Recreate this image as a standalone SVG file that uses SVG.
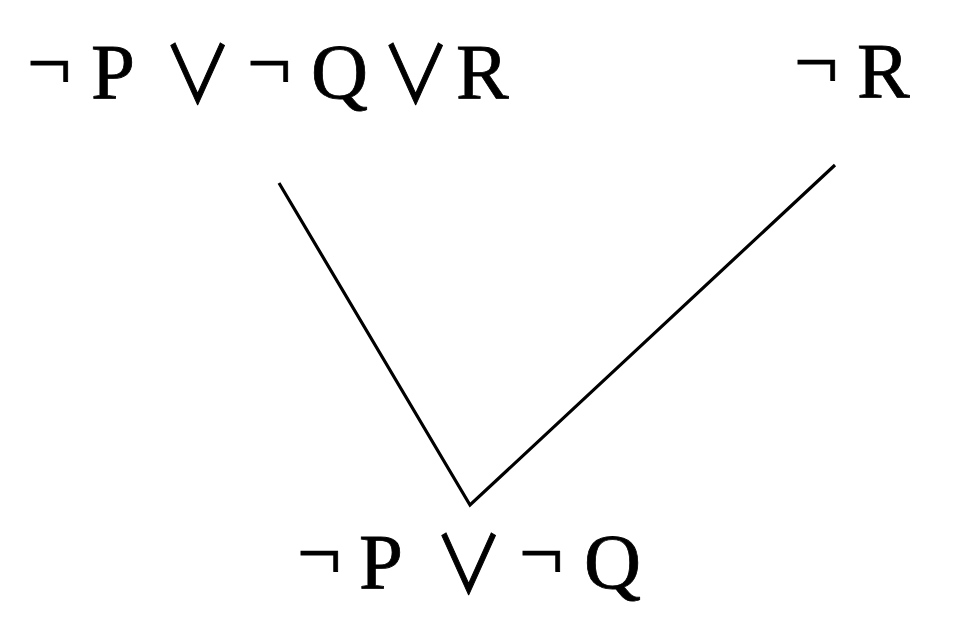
<svg xmlns="http://www.w3.org/2000/svg" width="963" height="623" viewBox="0 0 963 623">
<style>
text{font-family:"Liberation Serif","DejaVu Serif",serif;font-size:79px;fill:#000;stroke:#000;stroke-width:0.8}
.o{font-family:"Noto Sans CJK JP","DejaVu Sans",sans-serif;font-size:66px;stroke-width:0.9}
.c{stroke:#000;stroke-width:3.2;fill:none}
</style>
<rect width="963" height="623" fill="#fff"/>
<g id="n1">
<text y="98"><tspan x="27" dy="-9">¬</tspan><tspan x="91" dy="9">P</tspan><tspan x="247" dy="-9">¬</tspan><tspan x="311" dy="9">Q</tspan><tspan x="456">R</tspan></text>
<text class="o" transform="translate(163,103) scale(1.05,1.2)">∨</text>
<text class="o" transform="translate(381,103) scale(1.05,1.2)">∨</text>
</g>
<g id="n2"><text y="97"><tspan x="794" dy="-9">¬</tspan><tspan x="857" dy="9">R</tspan></text></g>
<g id="n3">
<text y="588"><tspan x="297" dy="-9">¬</tspan><tspan x="359" dy="9">P</tspan><tspan x="519" dy="-9">¬</tspan><tspan x="584" dy="9">Q</tspan></text>
<text class="o" transform="translate(434,593) scale(1.05,1.2)">∨</text>
</g>
<g id="connectors">
<polyline class="c" points="279,183 470,505 835,165"/>
</g>
</svg>
